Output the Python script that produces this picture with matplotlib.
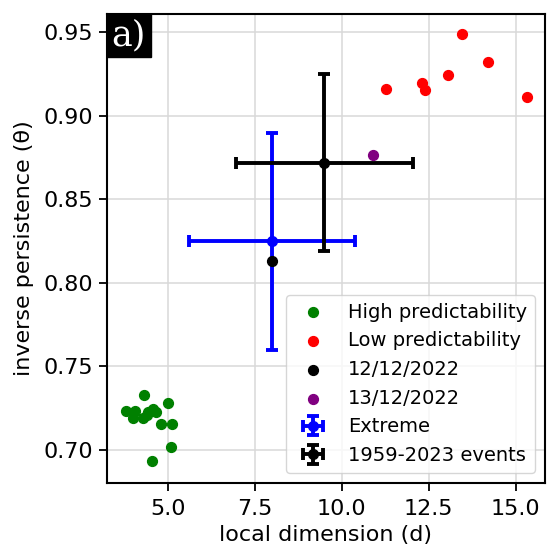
#!/usr/bin/env python3
import matplotlib
matplotlib.use("Agg")
import matplotlib.pyplot as plt

# High predictability days
high_d = [4.31, 3.79, 4.05, 4.00, 4.29, 4.43, 4.56, 4.65, 4.39, 4.99, 4.80, 5.11, 5.08, 4.55]
high_theta = [0.733, 0.7234, 0.7234, 0.719, 0.719, 0.723, 0.7244, 0.723, 0.721, 0.728,
              0.7154, 0.7154, 0.702, 0.6936]

# Low predictability days
low_d = [13.46, 14.22, 13.07, 12.30, 12.39, 11.26, 15.34]
low_theta = [0.9488, 0.9326, 0.9244, 0.9198, 0.9158, 0.9164, 0.9112]

# single events
ev1_d, ev1_theta = 8.00, 0.8129
ev2_d, ev2_theta = 10.90, 0.8769

# mean +- std
extreme_d, extreme_theta = 8.00, 0.8249
extreme_derr, extreme_terr = 2.38, 0.0652
all_d, all_theta = 9.50, 0.8719
all_derr, all_terr = 2.54, 0.053


def main():
    fig = plt.figure(figsize=(5.47, 5.51), dpi=100)
    ax = fig.add_axes([0.195, 0.124, 0.801, 0.851])

    ax.scatter(high_d, high_theta, s=50, color="green", label="High predictability", zorder=3)
    ax.scatter(low_d, low_theta, s=50, color="red", label="Low predictability", zorder=3)
    ax.scatter([ev1_d], [ev1_theta], s=50, color="black", label="12/12/2022", zorder=4)
    ax.scatter([ev2_d], [ev2_theta], s=50, color="purple", label="13/12/2022", zorder=4)

    ax.errorbar(extreme_d, extreme_theta, xerr=extreme_derr, yerr=extreme_terr,
                fmt="o", color="blue", ecolor="blue", elinewidth=2.8, capsize=4.5,
                capthick=2.8, markersize=7, label="Extreme", zorder=2)
    ax.errorbar(all_d, all_theta, xerr=all_derr, yerr=all_terr,
                fmt="o", color="black", ecolor="black", elinewidth=2.8, capsize=4.5,
                capthick=2.8, markersize=7, label="1959-2023 events", zorder=2)

    ax.set_xlim(3.24, 15.84)
    ax.set_ylim(0.6804, 0.9612)
    ax.set_xticks([5.0, 7.5, 10.0, 12.5, 15.0])
    ax.set_yticks([0.70, 0.75, 0.80, 0.85, 0.90, 0.95])
    ax.tick_params(labelsize=16, width=1.3, length=5.5)
    ax.tick_params(axis="x", pad=6.5)
    ax.tick_params(axis="y", pad=4)
    for sp in ax.spines.values():
        sp.set_linewidth(1.5)
    ax.grid(True, color="#d8d8d8", linewidth=1.1)
    ax.set_axisbelow(True)

    ax.set_xlabel("local dimension (d)", fontsize=16, labelpad=4)
    ax.set_ylabel("inverse persistence (θ)", fontsize=16, labelpad=7)

    ax.legend(loc="lower right", fontsize=14)

    ax.annotate("a)", xy=(0, 1), xycoords="axes fraction", xytext=(3.5, -3.5),
                textcoords="offset points", ha="left", va="top",
                fontsize=25, family="DejaVu Serif", color="white",
                bbox=dict(facecolor="black", edgecolor="black", boxstyle="square,pad=0.14"))

    fig.savefig("out.png", dpi=100)
    plt.close(fig)


if __name__ == "__main__":
    main()
